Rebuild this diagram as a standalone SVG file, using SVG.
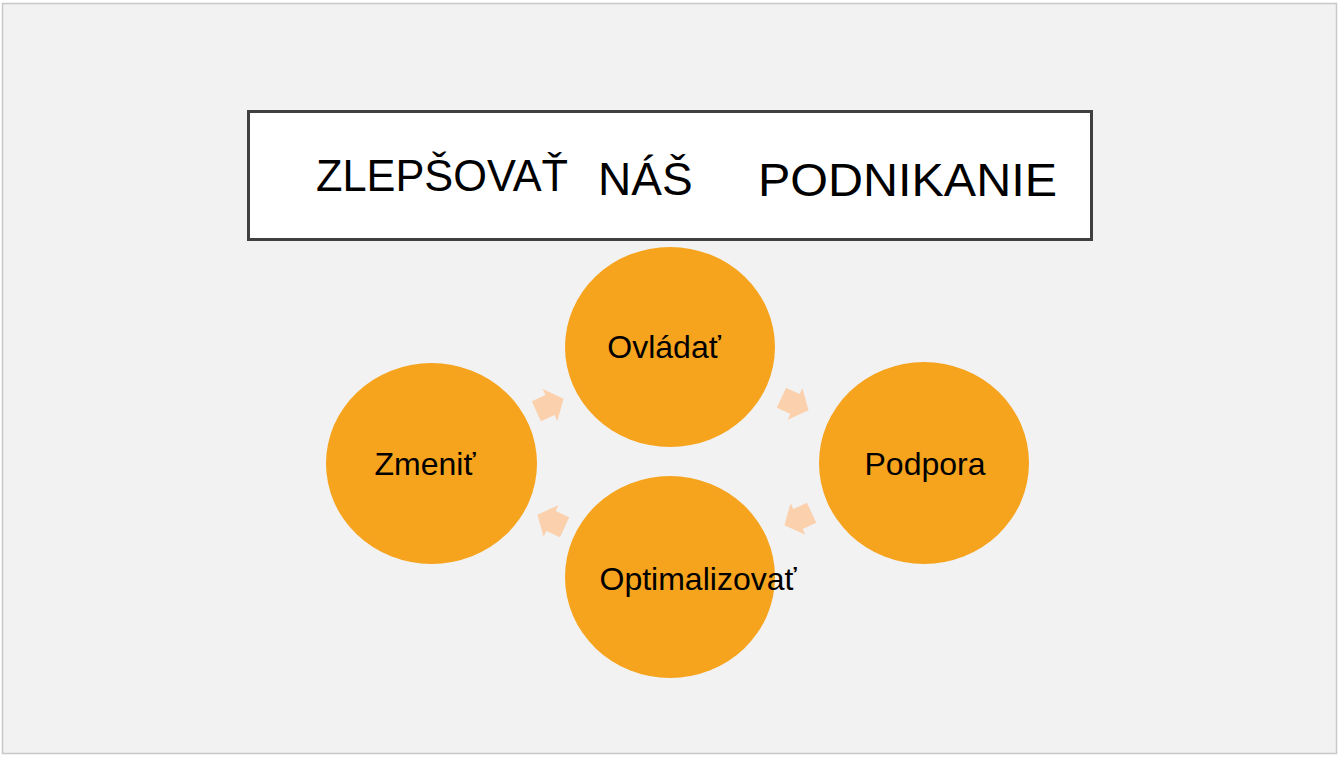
<svg xmlns="http://www.w3.org/2000/svg" width="1340" height="758" viewBox="0 0 1340 758">
<style>
.bg{fill:#f2f2f2;stroke:#c8c8c8;stroke-width:1.5}
.title{fill:#ffffff;stroke:#404040;stroke-width:3}
.tt{font-family:"Liberation Sans",Arial,sans-serif;fill:#000000}
.node{fill:#f6a31e}
.lbl{font-family:"Liberation Sans",Arial,sans-serif;font-size:32px;fill:#000000;text-anchor:middle}
.arr{fill:#fbd0ac}
</style>
<defs>
<polygon id="blk" points="-15,-11 0,-11 0,-17.5 15,0 0,17.5 0,11 -15,11"/>
</defs>
<rect width="1340" height="758" fill="#ffffff"/>
<rect class="bg" x="2.5" y="3.5" width="1334" height="750"/>
<g id="title">
<rect class="title" x="248.5" y="111.5" width="843" height="128"/>
<text class="tt" x="316" y="191" font-size="45" textLength="252" lengthAdjust="spacingAndGlyphs">ZLEPŠOVAŤ</text>
<text class="tt" x="598" y="195" font-size="46">NÁŠ</text>
<text class="tt" x="758" y="196" font-size="47" textLength="299" lengthAdjust="spacingAndGlyphs">PODNIKANIE</text>
</g>
<g id="connectors">
<use href="#blk" class="arr" transform="translate(550,405) rotate(-24.5)"/>
<use href="#blk" class="arr" transform="translate(795,404) rotate(25)"/>
<use href="#blk" class="arr" transform="translate(798,519) rotate(155)"/>
<use href="#blk" class="arr" transform="translate(551,521) rotate(-155)"/>
</g>
<g id="node-ovladat">
<ellipse class="node" cx="670" cy="347" rx="105" ry="100"/>
<text class="lbl" x="664" y="358">Ovládať</text>
</g>
<g id="node-podpora">
<ellipse class="node" cx="924" cy="463" rx="105" ry="101"/>
<text class="lbl" x="925" y="475">Podpora</text>
</g>
<g id="node-optimalizovat">
<ellipse class="node" cx="670" cy="577" rx="105" ry="101"/>
<text class="lbl" x="698" y="590">Optimalizovať</text>
</g>
<g id="node-zmenit">
<ellipse class="node" cx="431.5" cy="463.5" rx="105.5" ry="100.5"/>
<text class="lbl" x="425" y="475">Zmeniť</text>
</g>
</svg>
